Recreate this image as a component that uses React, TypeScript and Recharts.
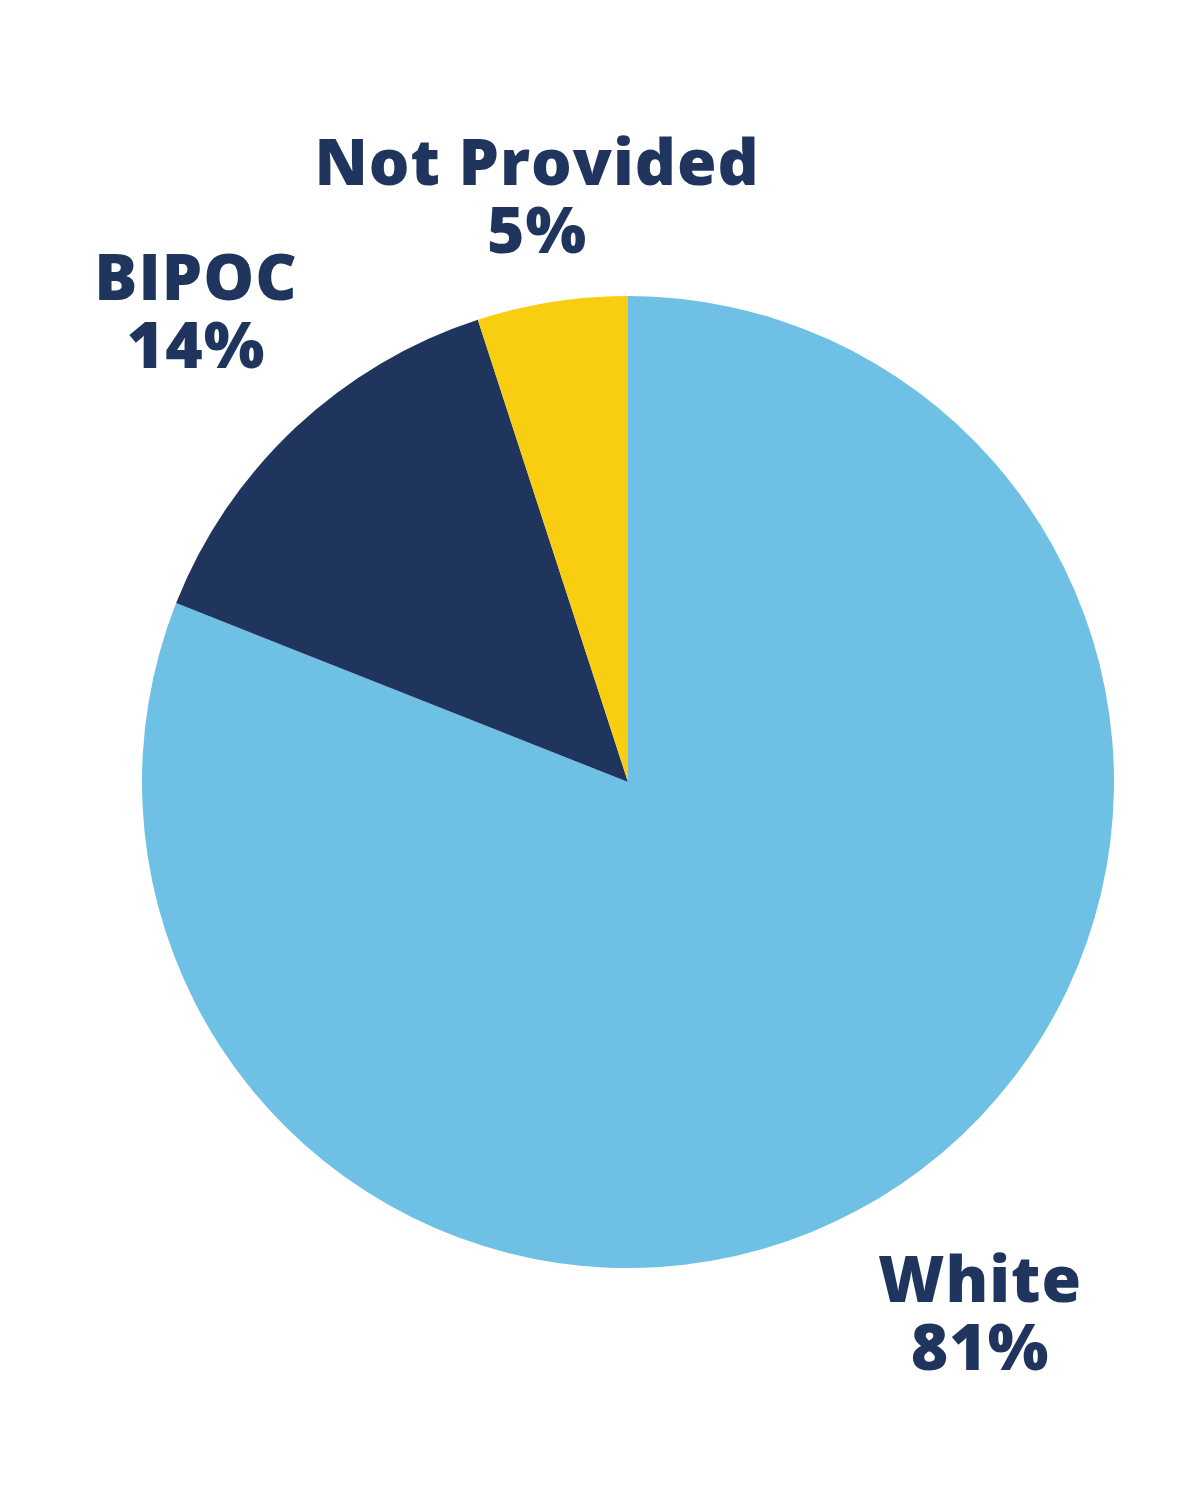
import { PieChart, Pie, Cell } from 'recharts';

const categories = ['White', 'BIPOC', 'Not Provided'];
const shares = [81, 14, 5];
const colors = ['#6ec0e4', '#1f355e', '#f9ce10'];

// where each label block sits (centre x, first baseline y)
const labelSpots: Record<string, { x: number; y: number }> = {
  White: { x: 980, y: 1302 },
  BIPOC: { x: 196, y: 300 },
  'Not Provided': { x: 537, y: 185 },
};

const data = categories.map((name, i) => ({ name, value: shares[i] }));

const textStyle = {
  fill: '#1f355e',
  fontFamily: "'Open Sans', sans-serif",
  fontWeight: 800,
  fontSize: 64,
  letterSpacing: 1,
};

const renderLabel = (props: any) => {
  const spot = labelSpots[props.name];
  if (!spot) return null;
  return (
    <g key={props.name}>
      <text x={spot.x} y={spot.y} textAnchor="middle" style={textStyle}>
        {props.name}
      </text>
      <text x={spot.x} y={spot.y + 68} textAnchor="middle" style={textStyle}>
        {`${props.value}%`}
      </text>
    </g>
  );
};

export default function App() {
  return (
    <div style={{ position: 'absolute', top: 0, left: 0, background: '#fff' }}>
      <PieChart width={1200} height={1500} margin={{ top: 0, right: 0, bottom: 0, left: 0 }}>
        <Pie
          data={data}
          dataKey="value"
          nameKey="name"
          cx={628}
          cy={782}
          outerRadius={486}
          startAngle={90}
          endAngle={-270}
          stroke="none"
          label={renderLabel}
          labelLine={false}
          isAnimationActive={false}
        >
          {data.map((d, i) => (
            <Cell key={d.name} fill={colors[i]} />
          ))}
        </Pie>
      </PieChart>
    </div>
  );
}
